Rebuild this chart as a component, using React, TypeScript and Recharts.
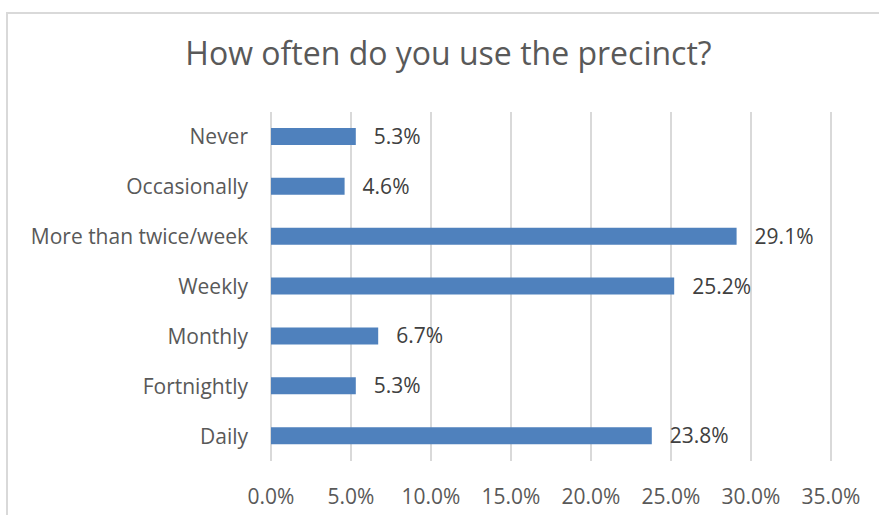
import { BarChart, Bar, XAxis, YAxis, CartesianGrid, LabelList } from 'recharts';

const categories = [
  'Never',
  'Occasionally',
  'More than twice/week',
  'Weekly',
  'Monthly',
  'Fortnightly',
  'Daily',
];
const shares = [5.3, 4.6, 29.1, 25.2, 6.7, 5.3, 23.8];
const xTicks = [0, 5, 10, 15, 20, 25, 30, 35];

const data = categories.map((name, i) => ({ name, value: shares[i] }));

const FONT = '"Open Sans", sans-serif';
const pct = (v: number) => `${Number(v).toFixed(1)}%`;

export default function App() {
  return (
    <div
      style={{
        position: 'absolute',
        left: 0,
        top: 0,
        width: 879,
        height: 515,
        overflow: 'hidden',
        background: '#fff',
        fontFamily: FONT,
      }}
    >
      {/* chart frame, runs off the right and bottom edge */}
      <div
        style={{
          position: 'absolute',
          left: 6,
          top: 12,
          width: 1000,
          height: 700,
          border: '2px solid #d9d9d9',
        }}
      />
      <div
        style={{
          position: 'absolute',
          left: 0,
          top: 31,
          width: 897,
          textAlign: 'center',
          fontSize: 32,
          lineHeight: '44px',
          color: '#595959',
        }}
      >
        How often do you use the precinct?
      </div>
      <div style={{ position: 'absolute', left: 0, top: 0 }}>
        <BarChart
          width={879}
          height={515}
          data={data}
          layout="vertical"
          margin={{ top: 112, right: 48, bottom: 0, left: 0 }}
        >
          <CartesianGrid horizontal={false} stroke="#d9d9d9" strokeWidth={2} />
          <XAxis
            type="number"
            domain={[0, 35]}
            ticks={xTicks}
            tickFormatter={pct}
            axisLine={false}
            tickLine={false}
            tickMargin={22}
            height={54}
            tick={{ fill: '#595959', fontSize: 21, fontFamily: FONT }}
            interval={0}
          />
          <YAxis
            type="category"
            dataKey="name"
            width={271}
            axisLine={false}
            tickLine={false}
            tickMargin={17}
            tick={{ fill: '#595959', fontSize: 21, fontFamily: FONT }}
            interval={0}
          />
          <Bar dataKey="value" fill="#4f81bd" barSize={17} isAnimationActive={false}>
            <LabelList
              dataKey="value"
              position="right"
              offset={18}
              formatter={(v: any) => pct(v)}
              fill="#404040"
              fontSize={21}
              fontFamily={FONT}
            />
          </Bar>
        </BarChart>
      </div>
    </div>
  );
}
